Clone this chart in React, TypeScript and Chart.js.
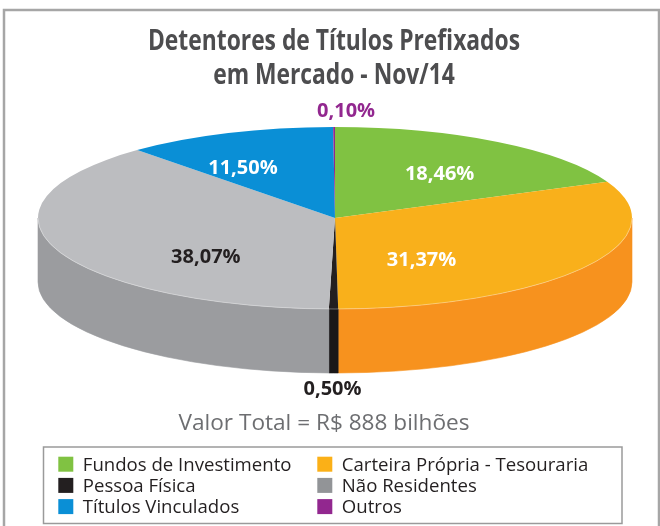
import React, { useEffect, useRef } from "react";
import { Chart, registerables } from "chart.js";

Chart.register(...registerables);

// ---------- data ----------
const categories = [
  "Fundos de Investimento",
  "Carteira Própria - Tesouraria",
  "Pessoa Física",
  "Não Residentes",
  "Títulos Vinculados",
  "Outros",
];
const shares = [18.46, 31.37, 0.5, 38.07, 11.5, 0.1];
const chartTitle = ["Detentores de Títulos Prefixados", "em Mercado - Nov/14"];
const totalNote = "Valor Total = R$ 888 bilhões";

// ---------- styles ----------
const topColors = ["#80c242", "#f9b01b", "#231f20", "#bcbdc0", "#0a8fd6", "#92278f"];
const sideColors = ["#6aa636", "#f7921e", "#1a1718", "#9b9c9f", "#0077b3", "#7a1f78"];
const legendColors = ["#80c242", "#fbb017", "#231f20", "#929497", "#0a8fd6", "#92278f"];
const labelColors = ["#ffffff", "#ffffff", "#231f20", "#231f20", "#ffffff", "#92278f"];
const LABEL_RADIUS = [0.6, 0.6, 1, 0.6, 0.6, 1];
const LABEL_SHIFT: [number, number][] = [
  [7, 2],
  [-63, 13],
  [-1, 80],
  [38, 20],
  [-28, 1],
  [12, -16],
];
const PIE = { cx: 335, cy: 218, rx: 297, ry: 91, depth: 64 };
const TITLE_CONDENSE = 0.815;
const W = 660;
const H = 526;

const fmt = (v: number) => v.toFixed(2).replace(".", ",") + "%";

const pie3d = {
  id: "pie3d",
  beforeDatasetsDraw(chart: any) {
    const ctx = chart.ctx as CanvasRenderingContext2D;
    const arcs = chart.getDatasetMeta(0).data as any[];
    ctx.save();
    if (!arcs.length) return;
    const { x, y, outerRadius } = arcs[0];
    arcs.forEach((arc: any, i: number) => {
      const s = Math.max(arc.startAngle, 0);
      const e = Math.min(arc.endAngle, Math.PI);
      if (e <= s) return;
      ctx.beginPath();
      ctx.ellipse(PIE.cx, PIE.cy, PIE.rx, PIE.ry, 0, s, e, false);
      ctx.lineTo(PIE.cx + PIE.rx * Math.cos(e), PIE.cy + PIE.depth + PIE.ry * Math.sin(e));
      ctx.ellipse(PIE.cx, PIE.cy + PIE.depth, PIE.rx, PIE.ry, 0, e, s, true);
      ctx.closePath();
      ctx.fillStyle = sideColors[i];
      ctx.fill();
      ctx.strokeStyle = sideColors[i];
      ctx.lineWidth = 0.6;
      ctx.stroke();
    });
    ctx.save();
    ctx.translate(PIE.cx, PIE.cy);
    ctx.scale(PIE.rx / outerRadius, PIE.ry / outerRadius);
    ctx.translate(-x, -y);
  },
  afterDatasetsDraw(chart: any) {
    const ctx = chart.ctx as CanvasRenderingContext2D;
    ctx.restore();
    // light rim between top face and side
    ctx.beginPath();
    ctx.ellipse(PIE.cx, PIE.cy, PIE.rx, PIE.ry, 0, 0, Math.PI, false);
    ctx.strokeStyle = "rgba(255,255,255,0.35)";
    ctx.lineWidth = 1;
    ctx.stroke();
    ctx.restore();
  },
  afterDraw(chart: any) {
    const ctx = chart.ctx as CanvasRenderingContext2D;
    const arcs = chart.getDatasetMeta(0).data as any[];
    ctx.save();

    // outer frame
    ctx.strokeStyle = "#a6a6a6";
    ctx.lineWidth = 2.5;
    ctx.beginPath();
    ctx.moveTo(4, H + 5);
    ctx.lineTo(4, 10);
    ctx.lineTo(659, 10);
    ctx.lineTo(659, H + 5);
    ctx.stroke();

    // title (condensed)
    ctx.fillStyle = "#4d4d4f";
    ctx.textAlign = "center";
    ctx.textBaseline = "alphabetic";
    ctx.font = "bold 28px 'Open Sans', sans-serif";
    const titleBase = [49.5, 83.5];
    chartTitle.forEach((t, i) => {
      ctx.save();
      ctx.translate(334, titleBase[i]);
      ctx.scale(TITLE_CONDENSE, 1);
      ctx.fillText(t, 0, 0);
      ctx.restore();
    });

    // slice labels
    ctx.font = "bold 20px 'Open Sans', sans-serif";
    ctx.textBaseline = "middle";
    arcs.forEach((arc: any, i: number) => {
      const mid = (arc.startAngle + arc.endAngle) / 2;
      const f = LABEL_RADIUS[i];
      const lx = PIE.cx + PIE.rx * f * Math.cos(mid) + LABEL_SHIFT[i][0];
      const ly = PIE.cy + PIE.ry * f * Math.sin(mid) + LABEL_SHIFT[i][1];
      ctx.fillStyle = labelColors[i];
      ctx.fillText(fmt(chart.data.datasets[0].data[i]), lx, ly);
    });

    // total note
    ctx.textBaseline = "alphabetic";
    ctx.fillStyle = "#6d6e71";
    ctx.font = "22.6px 'Open Sans', sans-serif";
    ctx.fillText(totalNote, 324, 429.5);

    // legend box
    ctx.strokeStyle = "#9a9a9a";
    ctx.lineWidth = 1.5;
    ctx.strokeRect(43.5, 447, 578.5, 76.5);
    ctx.textAlign = "left";
    ctx.font = "18.6px 'Open Sans', sans-serif";
    const labels = chart.data.labels as string[];
    labels.forEach((lab, i) => {
      const col = i % 2;
      const row = Math.floor(i / 2);
      const sx = col === 0 ? 58.3 : 317.3;
      const sy = 456.7 + row * 21.2;
      ctx.fillStyle = legendColors[i];
      ctx.fillRect(sx, sy, 15, 15);
      ctx.fillStyle = "#231f20";
      ctx.fillText(lab, sx + 24.5, sy + 14);
    });
    ctx.restore();
  },
};

export default function App() {
  const ref = useRef<HTMLCanvasElement | null>(null);
  useEffect(() => {
    if (!ref.current) return;
    const chart = new Chart(ref.current, {
      type: "pie",
      data: {
        labels: categories,
        datasets: [
          {
            data: shares,
            backgroundColor: topColors,
            borderWidth: 0,
          },
        ],
      },
      options: {
        responsive: false,
        animation: false,
        devicePixelRatio: 1,
        events: [],
        layout: { padding: { top: 120, bottom: 150, left: 150, right: 150 } },
        plugins: {
          legend: { display: false },
          title: { display: false },
          tooltip: { enabled: false },
        },
      },
      plugins: [pie3d],
    });
    return () => chart.destroy();
  }, []);
  return (
    <div style={{ position: "fixed", left: 0, top: 0, width: W, height: H, background: "#fff" }}>
      <canvas ref={ref} width={W} height={H} style={{ display: "block", width: W, height: H }} />
    </div>
  );
}
